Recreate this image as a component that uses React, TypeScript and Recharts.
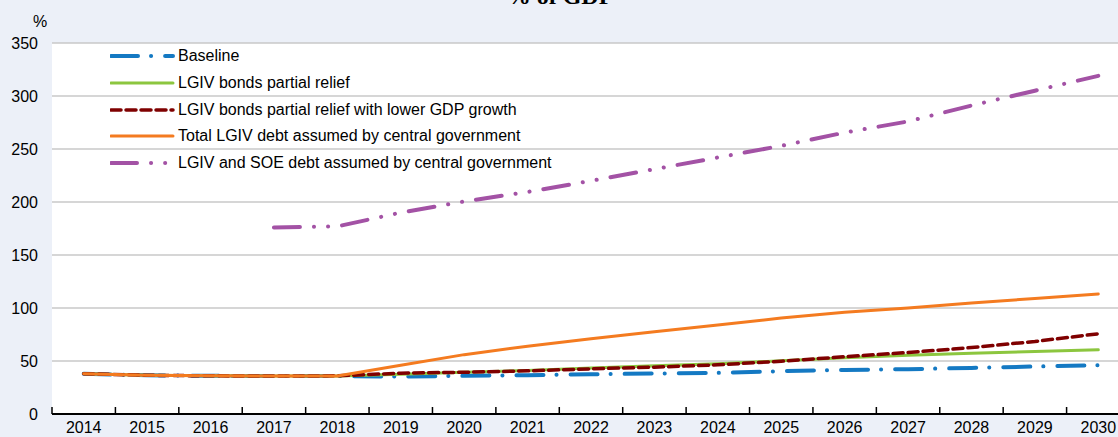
import React from 'react';
import { LineChart, Line, XAxis, YAxis, CartesianGrid, Legend } from 'recharts';

const years = ['2014', '2015', '2016', '2017', '2018', '2019', '2020', '2021', '2022', '2023', '2024', '2025', '2026', '2027', '2028', '2029', '2030'];
const baseline = [38, 36.5, 36, 35.8, 35.8, 35.3, 36, 36.6, 37.5, 38.2, 38.8, 40.4, 41.6, 42.3, 43.5, 44.8, 46];
const bondsRelief = [38, 36.5, 36, 35.8, 35.8, 37.5, 39.5, 41, 43.5, 45.5, 47.3, 50.2, 53, 55.5, 57.4, 59, 60.5];
const bondsReliefLowGrowth = [38, 36.5, 36, 35.8, 36, 38.5, 39.4, 40.7, 42.6, 44.2, 46.4, 49.8, 54, 58, 62.7, 68.4, 75.7];
const totalLgiv = [38, 36.5, 36, 35.8, 35.8, 46, 56, 64, 71, 77.5, 84, 90.5, 96, 100, 104.7, 109, 113.2];
const lgivSoe = [null, null, null, 176, 177, 190, 200.5, 209.5, 220, 231, 242, 253, 265.5, 276, 291, 305, 319];
const yTicks = [0, 50, 100, 150, 200, 250, 300, 350];

const series = [
    { key: 'baseline', name: 'Baseline', color: '#1479c3', width: 4, dash: '27 13 0.1 14' },
    { key: 'bondsRelief', name: 'LGIV bonds partial relief', color: '#8cc63f', width: 3, dash: undefined },
    { key: 'bondsReliefLowGrowth', name: 'LGIV bonds partial relief with lower GDP growth', color: '#7f0000', width: 3.5, dash: '10 5' },
    { key: 'totalLgiv', name: 'Total LGIV debt assumed by central government', color: '#f47b20', width: 3, dash: undefined },
    { key: 'lgivSoe', name: 'LGIV and SOE debt assumed by central government', color: '#a352a5', width: 4, dash: '26 14 0.1 14 0.1 14' },
];

const data = years.map((year, i) => ({
    year,
    baseline: baseline[i],
    bondsRelief: bondsRelief[i],
    bondsReliefLowGrowth: bondsReliefLowGrowth[i],
    totalLgiv: totalLgiv[i],
    lgivSoe: lgivSoe[i],
}));

const FONT = '"Liberation Sans", Arial, sans-serif';
const BG = '#ecf0f8';

const YearTick = (props: any) => {
    const { x, y, payload } = props;
    const off = payload.offset || 0;
    const axisY = y - 8;
    return (
        <g>
            <line x1={x - off} x2={x - off} y1={axisY} y2={axisY - 7} stroke="#000" strokeWidth={1.5} />
            <text x={x} y={y} dy="0.71em" textAnchor="middle" fontSize={16} fontFamily={FONT} fill="#000">
                {payload.value}
            </text>
        </g>
    );
};

const LegendBox = () => (
    <div style={{ fontFamily: FONT, fontSize: 16, color: '#000' }}>
        {series.map((s) => (
            <div key={s.key} style={{ display: 'flex', alignItems: 'center', height: 26.7, whiteSpace: 'nowrap' }}>
                <svg width={66} height={10} style={{ display: 'block' }}>
                    <line
                        x1={1}
                        x2={63}
                        y1={5}
                        y2={5}
                        stroke={s.color}
                        strokeWidth={s.width}
                        strokeDasharray={s.dash}
                        strokeLinecap="round"
                    />
                </svg>
                <span style={{ marginLeft: 2 }}>{s.name}</span>
            </div>
        ))}
    </div>
);

export default function App() {
    return (
        <div style={{ position: 'absolute', left: 0, top: 0, width: 1118, height: 437, overflow: 'hidden', background: BG }}>
            <LineChart width={1130} height={437} data={data} margin={{ top: 43, right: 0, bottom: 0, left: 0 }}>
                <CartesianGrid vertical={false} stroke="#c8c8c8" strokeWidth={1.5} fill="#ffffff" />
                <XAxis
                    dataKey="year"
                    scale="band"
                    height={23}
                    axisLine={{ stroke: '#000', strokeWidth: 2 }}
                    tickLine={false}
                    tickSize={0}
                    tickMargin={8}
                    interval={0}
                    tick={<YearTick />}
                />
                <YAxis
                    domain={[0, 350]}
                    ticks={yTicks}
                    width={52}
                    axisLine={false}
                    tickLine={false}
                    tickSize={0}
                    tickMargin={14}
                    tick={{ fontSize: 16, fontFamily: FONT, fill: '#000' }}
                />
                <Legend
                    layout="vertical"
                    align="center"
                    verticalAlign="middle"
                    content={<LegendBox />}
                    wrapperStyle={{ left: 110, top: 43, width: 'auto', height: 'auto' }}
                />
                {series.map((s) => (
                    <Line
                        key={s.key}
                        type="linear"
                        dataKey={s.key}
                        name={s.name}
                        stroke={s.color}
                        strokeWidth={s.width}
                        strokeDasharray={s.dash}
                        strokeLinecap="round"
                        dot={false}
                        activeDot={false}
                        isAnimationActive={false}
                    />
                ))}
            </LineChart>
            <svg width={1118} height={437} style={{ position: 'absolute', left: 0, top: 0, pointerEvents: 'none' }}>
                <text x={560} y={4} textAnchor="middle" fontSize={24} fontWeight="bold" fontFamily='"Liberation Serif", "Times New Roman", serif' fill="#000">
                    % of GDP
                </text>
                <text x={40} y={27} textAnchor="middle" fontSize={16} fontFamily={FONT} fill="#000">
                    %
                </text>
            </svg>
        </div>
    );
}
